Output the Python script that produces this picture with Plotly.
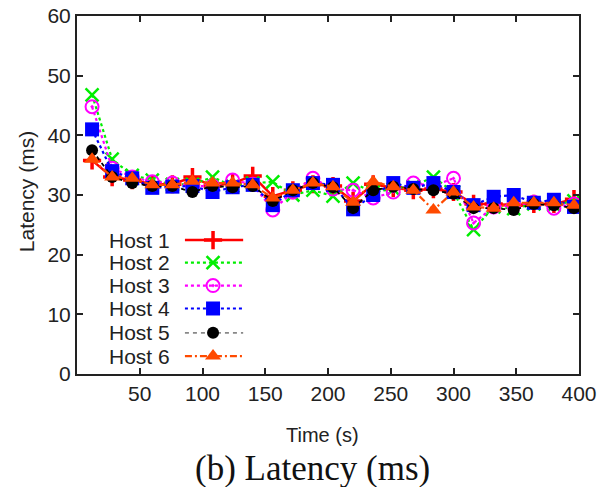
import plotly.graph_objects as go

time_s = [12, 28, 44, 60, 76, 92, 108, 124, 140, 156, 172, 188, 204, 220, 236,
          252, 268, 284, 300, 316, 332, 348, 364, 380, 396]

host1 = [35.8, 33.0, 32.5, 31.8, 31.8, 33.0, 31.5, 32.0, 33.2, 29.8, 30.8, 31.8, 31.5,
         29.0, 31.8, 31.2, 30.8, 31.0, 30.5, 28.5, 28.5, 28.3, 28.5, 28.5, 29.3]
host2 = [46.8, 36.0, 33.3, 32.5, 31.8, 31.8, 33.0, 31.5, 32.0, 32.2, 30.0, 30.8, 29.8,
         32.0, 30.5, 31.0, 31.5, 33.0, 30.5, 24.2, 28.0, 27.7, 28.5, 28.3, 29.0]
host3 = [44.8, 34.5, 33.0, 32.2, 32.0, 31.5, 31.5, 32.5, 31.8, 27.5, 30.5, 32.8, 31.0,
         30.8, 29.5, 30.5, 32.0, 31.5, 32.8, 25.3, 28.0, 28.3, 28.8, 27.8, 28.5]
host4 = [41.0, 34.0, 32.8, 31.2, 31.4, 31.5, 30.5, 31.3, 31.7, 28.3, 30.8, 32.0, 31.7,
         27.6, 30.0, 32.0, 31.2, 32.0, 30.5, 28.3, 29.7, 30.0, 28.7, 29.2, 28.0]
host5 = [37.5, 33.0, 32.0, 31.5, 31.5, 30.5, 31.5, 31.3, 31.5, 29.0, 30.8, 32.0, 31.3,
         27.8, 30.8, 31.4, 31.0, 30.8, 30.2, 27.8, 27.8, 27.5, 28.5, 28.3, 27.8]
host6 = [36.0, 33.0, 32.8, 31.7, 31.7, 32.3, 32.0, 32.0, 31.7, 29.5, 30.8, 32.0, 31.4,
         28.8, 32.2, 31.4, 30.8, 27.5, 30.5, 28.0, 27.8, 28.7, 28.7, 28.7, 28.3]

names = ["Host 1", "Host 2", "Host 3", "Host 4", "Host 5", "Host 6"]
series = [host1, host2, host3, host4, host5, host6]

x_ticks = [50, 100, 150, 200, 250, 300, 350, 400]
y_ticks = [0, 10, 20, 30, 40, 50, 60]

styles = [
    dict(color="#ff0000", dash="solid", width=2.5, symbol="cross-thin-open", size=13, mlw=3.5),
    dict(color="#00ee00", dash="dot", width=2.2, symbol="x-thin-open", size=13, mlw=2.5),
    dict(color="#ff00ff", dash="dot", width=2.2, symbol="circle-open-dot", size=13, mlw=2),
    dict(color="#0000ff", dash="dot", width=2.2, symbol="square", size=14, mlw=0),
    dict(color="#000000", dash="4px,4px", width=1.8, symbol="circle", size=12, mlw=0),
    dict(color="#ff4a00", dash="7px,3px,2px,3px", width=2.2, symbol="triangle-up", size=14, mlw=0),
]
legend_line_colors = ["#ff0000", "#00ee00", "#ff00ff", "#0000ff", "#888888", "#ff4a00"]

fig = go.Figure()
for name, ys, st in zip(names, series, styles):
    mk = dict(symbol=st["symbol"], size=st["size"], color=st["color"])
    if st["mlw"]:
        mk["line"] = dict(width=st["mlw"], color=st["color"])
    fig.add_trace(go.Scatter(
        x=time_s, y=ys, name=name, mode="lines+markers",
        line=dict(color=st["color"], width=st["width"], dash=st["dash"]),
        marker=mk, showlegend=False))

# manual gnuplot-style legend (text left, sample right) on an overlay axis
row_y = [0.374, 0.311, 0.247, 0.183, 0.115, 0.050]
for name, st, ry, lc in zip(names, styles, row_y, legend_line_colors):
    mk = dict(symbol=st["symbol"], size=st["size"], color=st["color"])
    if st["mlw"]:
        mk["line"] = dict(width=st["mlw"], color=st["color"])
    fig.add_trace(go.Scatter(
        x=[0.215, 0.331], y=[ry, ry], mode="lines", xaxis="x2", yaxis="y2",
        line=dict(color=lc, width=st["width"], dash=st["dash"]),
        showlegend=False, hoverinfo="skip"))
    fig.add_trace(go.Scatter(
        x=[0.271], y=[ry], mode="markers", xaxis="x2", yaxis="y2",
        marker=mk, showlegend=False, hoverinfo="skip"))
    fig.add_annotation(text=name, x=0.06, y=ry, xref="x2", yref="y2",
                       xanchor="left", yanchor="middle", showarrow=False,
                       font=dict(family="Liberation Sans, Arial", size=21, color="#222222"))

axis_font = dict(family="Liberation Sans, Arial", size=21, color="#222222")
title_font = dict(family="Liberation Sans, Arial", size=20, color="#222222")
fig.update_layout(
    width=604, height=487,
    margin=dict(l=77, r=25, t=16, b=113, autoexpand=False),
    paper_bgcolor="white", plot_bgcolor="white",
    showlegend=False,
    xaxis=dict(range=[0, 400], tickvals=x_ticks, ticks="inside", ticklen=6,
               tickwidth=1.5, tickcolor="#222222", showgrid=False, zeroline=False,
               showline=True, linecolor="#222222", linewidth=2, mirror="allticks",
               tickfont=axis_font, automargin=False),
    yaxis=dict(range=[0, 60], tickvals=y_ticks, ticks="inside", ticklen=6,
               tickwidth=1.5, tickcolor="#222222", showgrid=False, zeroline=False,
               showline=True, linecolor="#222222", linewidth=2, mirror="allticks",
               tickfont=axis_font, automargin=False),
    xaxis2=dict(range=[0, 1], overlaying="x", visible=False, fixedrange=True),
    yaxis2=dict(range=[0, 1], overlaying="y", visible=False, fixedrange=True),
)
fig.add_annotation(text="Time (s)", xref="paper", yref="paper",
                   x=0.49, y=-0.170, xanchor="center", yanchor="middle",
                   showarrow=False, font=title_font)
fig.add_annotation(text="Latency (ms)", xref="paper", yref="paper",
                   x=-0.10, y=0.51, xanchor="center", yanchor="middle",
                   textangle=-90, showarrow=False,
                   font=dict(family="Liberation Sans, Arial", size=21, color="#222222"))
fig.add_annotation(text="(b) Latency (ms)", xref="paper", yref="paper",
                   x=0.47, y=-0.265, xanchor="center", yanchor="middle",
                   showarrow=False,
                   font=dict(family="Liberation Serif, Times New Roman", size=35, color="#111111"))

fig.write_html("out.html", config={"displayModeBar": False},
               post_script="document.body.style.margin='0px';document.body.style.overflow='hidden';")
